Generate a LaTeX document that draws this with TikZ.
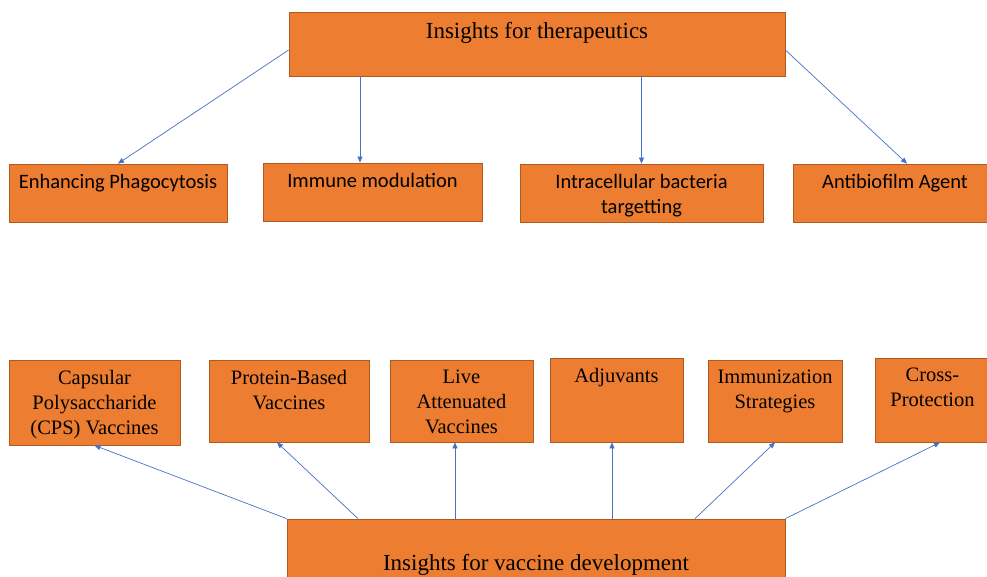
\documentclass[tikz,border=0pt]{standalone}
\usepackage{fontspec}
\setmainfont{Liberation Serif}
\newfontfamily\boxsans{Carlito}
\usetikzlibrary{arrows.meta}
\definecolor{boxfill}{RGB}{237,125,49}
\definecolor{boxline}{RGB}{174,90,33}
\definecolor{arwblue}{RGB}{68,114,196}

\begin{document}
\begin{tikzpicture}[
  x=1pt, y=-1pt,
  box/.style={rectangle, draw=boxline, fill=boxfill, line width=0.8pt, inner sep=0pt},
  big/.style={anchor=north, align=center, inner sep=0pt,
    font=\fontsize{23}{27}\selectfont},
  sans/.style={anchor=north, align=center, inner sep=0pt, yshift=-10pt,
    font=\boxsans\fontsize{20.5}{25}\selectfont},
  serif/.style={anchor=north, align=center, inner sep=0pt, yshift=-10pt,
    font=\fontsize{20.5}{25}\selectfont},
  arw/.style={-{Triangle[length=6pt,width=5pt]}, line width=0.7pt, arwblue},
]
  \useasboundingbox (0,0) rectangle (987,576);

  \node[box, minimum width=496pt, minimum height=64pt,
    label={[big, yshift=-10.5pt]north:Insights for therapeutics}] (ther) at (537,44) {};

  \node[box, minimum width=218pt, minimum height=58pt,
    label={[sans]north:Enhancing Phagocytosis}] (enh) at (118,193) {};
  \node[box, minimum width=219pt, minimum height=58pt,
    label={[sans]north:Immune modulation}] (imm) at (372.5,192) {};
  \node[box, minimum width=243pt, minimum height=58pt,
    label={[sans]north:Intracellular bacteria\\targetting}] (intra) at (641.5,193) {};
  \node[box, minimum width=204pt, minimum height=58pt,
    label={[sans]north:Antibiofilm Agent}] (anti) at (895,193) {};

  \node[box, minimum width=171pt, minimum height=85pt,
    label={[serif]north:Capsular\\Polysaccharide\\(CPS) Vaccines}] (cps) at (94.5,402.5) {};
  \node[box, minimum width=160pt, minimum height=82pt,
    label={[serif]north:Protein-Based\\Vaccines}] (prot) at (289,401) {};
  \node[box, minimum width=143pt, minimum height=82pt,
    label={[serif]north:Live\\Attenuated\\Vaccines}] (live) at (461.5,401) {};
  \node[box, minimum width=133pt, minimum height=84pt,
    label={[serif]north:Adjuvants}] (adj) at (616.5,400) {};
  \node[box, minimum width=134pt, minimum height=82pt,
    label={[serif]north:Immunization\\Strategies}] (immz) at (775,401) {};
  \node[box, minimum width=115pt, minimum height=84pt,
    label={[serif]north:Cross-\\Protection}] (cross) at (932.5,400) {};

  \node[box, minimum width=498pt, minimum height=64pt,
    label={[big, yshift=-35.5pt]north:Insights for vaccine development}] (vac) at (536,551) {};

  \draw[arw] ([yshift=-6pt]ther.west) -- (enh.north);
  \draw[arw] ([xshift=-177pt]ther.south) -- ([xshift=-12.5pt]imm.north);
  \draw[arw] (ther.south -| intra.north) -- (intra.north);
  \draw[arw] ([yshift=-6pt]ther.east) -- ([xshift=12pt]anti.north);

  \draw[arw] (vac.north west) -- (cps.south);
  \draw[arw] ([xshift=-178pt]vac.north) -- ([xshift=-12pt]prot.south);
  \draw[arw] ([xshift=-81pt]vac.north) -- ([xshift=-6.5pt]live.south);
  \draw[arw] ([xshift=76pt]vac.north) -- ([xshift=-4.5pt]adj.south);
  \draw[arw] ([xshift=159pt]vac.north) -- (immz.south);
  \draw[arw] (vac.north east) -- ([xshift=7.5pt]cross.south);
\end{tikzpicture}
\end{document}
